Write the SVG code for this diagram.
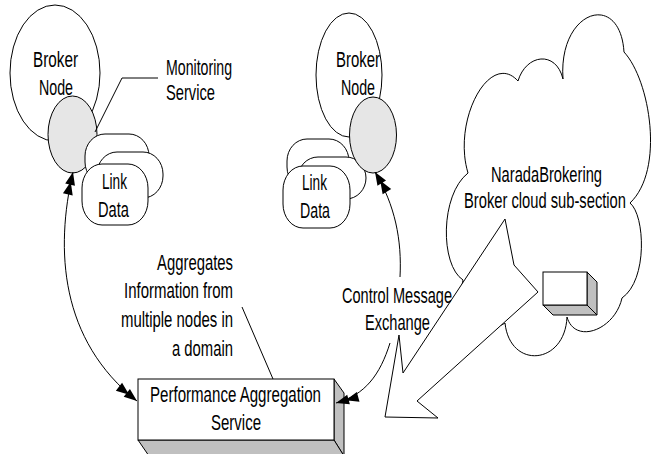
<svg xmlns="http://www.w3.org/2000/svg" width="654" height="454" viewBox="0 0 654 454">
<style>
.s{fill:#fff;stroke:#000;stroke-width:1}
.g{fill:#e6e6e6;stroke:#000;stroke-width:1}
.d{fill:#c0c0c0;stroke:#000;stroke-width:1}
.ln{fill:none;stroke:#000;stroke-width:1}
text{font-family:"Liberation Sans Narrow","Arial Narrow","Liberation Sans",Arial,sans-serif;font-size:22px;fill:#000}
</style>
<defs>
<marker id="dbl" viewBox="0 0 32 14" markerWidth="32" markerHeight="14" refX="30" refY="7" orient="auto-start-reverse" markerUnits="userSpaceOnUse">
<path d="M30,7 L17,2 L17,12 Z M20,7 L7,2 L7,12 Z" fill="#000"/>
</marker>
</defs>
<rect width="654" height="454" fill="#fff"/>

<g id="cloud">
<path class="s" d="M468,173 C452,120 490,50 518,81 C526,54 556,50 563,79 C558,10 620,-10 624,52 C650,80 665,170 630,203 C645,215 648,280 622,298 C615,330 575,345 567,317 C565,365 510,370 505,323 C490,335 455,310 463,280 C440,265 440,195 468,173 Z"/>
</g>
<g id="cloud-label">
<text x="491" y="182" textLength="111" lengthAdjust="spacingAndGlyphs">NaradaBrokering</text>
<text x="464" y="208" textLength="162" lengthAdjust="spacingAndGlyphs">Broker cloud sub-section</text>
</g>

<g id="cloud-box">
<polygon class="d" points="587,272 597,282 597,315 587,305"/>
<polygon class="d" points="543,305 587,305 597,315 553,315"/>
<rect class="s" x="543" y="272" width="44" height="33"/>
</g>

<g id="exchange-arrow">
<polygon class="s" points="505,219 514,265 538,292 417,401 438,418 385,417 399,335 403,373"/>
</g>

<g id="broker-left">
<ellipse class="s" cx="55" cy="73" rx="45" ry="68"/>
<text x="33" y="67" textLength="45" lengthAdjust="spacingAndGlyphs">Broker</text>
<text x="39" y="95" textLength="34" lengthAdjust="spacingAndGlyphs">Node</text>
</g>
<g id="monitor-left">
<ellipse class="g" cx="72.5" cy="134.5" rx="24.5" ry="38.5"/>
</g>
<g id="linkdata-left">
<rect class="s" x="85" y="134" width="64" height="50" rx="20" ry="22"/>
<rect class="s" x="97" y="152" width="66" height="46" rx="20" ry="22"/>
<rect class="s" x="82" y="164" width="66" height="61" rx="20" ry="24"/>
<text x="102" y="189" textLength="25" lengthAdjust="spacingAndGlyphs">Link</text>
<text x="98" y="217" textLength="31" lengthAdjust="spacingAndGlyphs">Data</text>
</g>

<g id="broker-right">
<ellipse class="s" cx="349" cy="75" rx="33" ry="62"/>
<text x="336" y="67" textLength="44" lengthAdjust="spacingAndGlyphs">Broker</text>
<text x="341" y="95" textLength="34" lengthAdjust="spacingAndGlyphs">Node</text>
</g>
<g id="linkdata-right">
<rect class="s" x="287" y="139" width="62" height="50" rx="20" ry="22"/>
<rect class="s" x="298" y="157" width="68" height="42" rx="20" ry="22"/>
<rect class="s" x="283" y="166" width="67" height="62" rx="20" ry="24"/>
<text x="302" y="190" textLength="25" lengthAdjust="spacingAndGlyphs">Link</text>
<text x="300" y="218" textLength="30" lengthAdjust="spacingAndGlyphs">Data</text>
</g>
<g id="monitor-right">
<ellipse class="g" cx="373" cy="135" rx="23.5" ry="38"/>
</g>

<g id="pas">
<polygon class="d" points="334,379 344,393 344,456 334,440"/>
<polygon class="d" points="138,440 334,440 344,456 149,456"/>
<rect class="s" x="138" y="379" width="196" height="61"/>
<text x="150" y="402" textLength="171" lengthAdjust="spacingAndGlyphs">Performance Aggregation</text>
<text x="211" y="430" textLength="50" lengthAdjust="spacingAndGlyphs">Service</text>
</g>

<g id="labels">
<text x="166" y="75" textLength="66" lengthAdjust="spacingAndGlyphs">Monitoring</text>
<text x="166" y="100" textLength="49" lengthAdjust="spacingAndGlyphs">Service</text>
<text x="157" y="270" textLength="76" lengthAdjust="spacingAndGlyphs">Aggregates</text>
<text x="124" y="298" textLength="109" lengthAdjust="spacingAndGlyphs">Information from</text>
<text x="121" y="327" textLength="112" lengthAdjust="spacingAndGlyphs">multiple nodes in</text>
<text x="172" y="356" textLength="61" lengthAdjust="spacingAndGlyphs">a domain</text>
<text x="342" y="303" textLength="110" lengthAdjust="spacingAndGlyphs">Control Message</text>
<text x="365" y="330" textLength="65" lengthAdjust="spacingAndGlyphs">Exchange</text>
</g>

<g id="connectors">
<path class="ln" d="M95,132 L122,78 L158,78"/>
<path class="ln" d="M242,307 L273,379"/>
<path class="ln" d="M73,172 C55,250 60,340 137,401" marker-start="url(#dbl)" marker-end="url(#dbl)"/>
<path class="ln" d="M375,172 C395,205 402,240 400,277" marker-start="url(#dbl)"/>
<path class="ln" d="M390,343 C380,375 365,395 336,403" marker-end="url(#dbl)"/>
</g>
</svg>
